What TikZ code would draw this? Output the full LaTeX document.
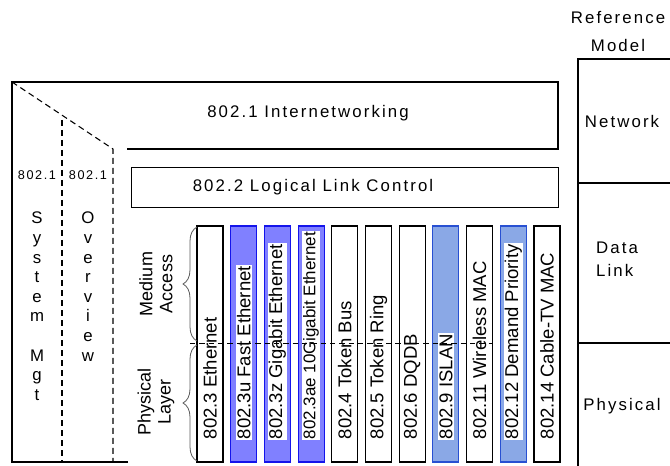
\documentclass[tikz,border=0pt]{standalone}
\usepackage{fontspec}
\setmainfont{Liberation Sans}
\newfontfamily\spacedfont[LetterSpace=12.5]{Liberation Sans}
\usetikzlibrary{decorations.pathreplacing,calc}

\definecolor{violetfill}{RGB}{128,128,255}
\definecolor{violetedge}{RGB}{20,20,235}
\definecolor{skyfill}{RGB}{138,168,230}
\definecolor{skyedge}{RGB}{40,80,210}
\definecolor{bracegray}{RGB}{90,90,90}

\tikzset{
  stdbox/.style={draw=black, line width=0.8pt, fill=white, minimum width=26*0.75pt,
                 minimum height=236*0.75pt, inner sep=0pt},
  fastbox/.style={stdbox, draw=violetedge, fill=violetfill},
  isobox/.style={stdbox, draw=skyedge, fill=skyfill},
  boxlabel/.style={rotate=90, anchor=west, inner sep=0.8pt, font=\fontsize{13.9}{14}\selectfont},
  whitelabel/.style={boxlabel, fill=white},
  hlabel/.style={inner sep=0pt, font=\spacedfont\fontsize{12.6}{14}\selectfont},
  smalllabel/.style={inner sep=0pt, font=\spacedfont\fontsize{9.5}{12}\selectfont},
  letters/.style={inner sep=0pt, align=center, anchor=north, font=\fontsize{12.6}{14.7}\selectfont},
  sidelabel/.style={rotate=90, align=center, inner sep=0pt, font=\fontsize{13.5}{15}\selectfont},
  solidline/.style={line width=0.8pt},
  dashline/.style={line width=0.8pt, dash pattern=on 4.5pt off 3pt},
  bracestyle/.style={draw=bracegray, line width=0.6pt, decorate,
                     decoration={brace, amplitude=10.5pt}},
}

\begin{document}
\begin{tikzpicture}[x=0.75pt, y=-0.75pt]
\useasboundingbox (0,0) rectangle (670,466);

% left management columns and the upper frame
\coordinate (ftl) at (12,82);
\coordinate (fbl) at (12,462);
\coordinate (fbr) at (128,462);
\coordinate (ftr) at (558,82);
\coordinate (fmr) at (558,149);
\coordinate (fml) at (127,149);
\coordinate (ovtop) at (62,120);
\coordinate (ovbot) at (62,462);
\coordinate (mgcorner) at (113,149);
\coordinate (mgbot) at (113,462);
\draw[solidline] (fbr) -- (fbl) -- (ftl) -- (ftr) -- (fmr) -- (fml);
\draw[dashline] (ftl) -- (mgcorner) -- (mgbot);
\draw[dashline] (ovtop) -- (ovbot);

\node[hlabel] (inet) at (308,113) {802.1 Internetworking};
\node[draw, solidline, minimum width=427*0.75pt, minimum height=40*0.75pt, inner sep=0pt,
      anchor=north west] (llc) at (131,167) {};
\node[hlabel] (llctext) at (313,187) {802.2 Logical Link Control};

\node[smalllabel] (mg) at (37,175) {802.1};
\node[smalllabel] (ov) at (88,175) {802.1};
\node[letters] (mgt) at (37,212) {S\\y\\s\\t\\e\\m\\[14.7pt]M\\g\\t};
\node[letters] (ovw) at (88,212) {O\\v\\e\\r\\v\\i\\e\\w};

% reference model column
\coordinate (rtl) at (578,59);
\coordinate (rtr) at (670,59);
\coordinate (rbl) at (578,466);
\draw[solidline] (rtr) -- (rtl) -- (rbl);
\coordinate (r1l) at (578,183);
\coordinate (r1r) at (670,183);
\coordinate (r2l) at (578,343);
\coordinate (r2r) at (670,343);
\draw[solidline] (r1l) -- (r1r);
\draw[solidline] (r2l) -- (r2r);
\node[hlabel] (refa) at (618,18) {Reference};
\node[hlabel] (refb) at (618,45) {Model};
\node[hlabel] (net) at (622,121) {Network};
\node[hlabel, align=left] (dl) at (617,259) {Data\\[3pt]Link};
\node[hlabel] (phy) at (622,406) {Physical};

% MAC / PHY standards
\def\pitch{33.7}
\node[stdbox]  (b1)  at (210+0*\pitch,344) {};
\node[fastbox] (b2)  at (210+1*\pitch,344) {};
\node[fastbox] (b3)  at (210+2*\pitch,344) {};
\node[fastbox] (b4)  at (210+3*\pitch,344) {};
\node[stdbox]  (b5)  at (210+4*\pitch,344) {};
\node[stdbox]  (b6)  at (210+5*\pitch,344) {};
\node[stdbox]  (b7)  at (210+6*\pitch,344) {};
\node[isobox]  (b8)  at (210+7*\pitch,344) {};
\node[stdbox]  (b9)  at (210+8*\pitch,344) {};
\node[isobox]  (b10) at (210+9*\pitch,344) {};
\node[stdbox]  (b11) at (210+10*\pitch,344) {};

\path (b1.south)  ++(0,-22) node[boxlabel]   (t1)  {802.3 Ethernet};
\path (b2.south)  ++(0,-22) node[whitelabel] (t2)  {802.3u Fast Ethernet};
\path (b3.south)  ++(0,-22) node[whitelabel] (t3)  {802.3z Gigabit Ethernet};
\path (b4.south)  ++(0,-22) node[whitelabel, font=\fontsize{12.7}{13}\selectfont] (t4) {802.3ae 10Gigabit Ethernet};
\path (b5.south)  ++(0,-22) node[boxlabel]   (t5)  {802.4 Token Bus};
\path (b6.south)  ++(0,-22) node[boxlabel]   (t6)  {802.5 Token Ring};
\path (b7.south)  ++(0,-22) node[boxlabel]   (t7)  {802.6 DQDB};
\path (b8.south)  ++(0,-22) node[whitelabel] (t8)  {802.9 ISLAN};
\path (b9.south)  ++(0,-22) node[boxlabel]   (t9)  {802.11 Wireless MAC};
\path (b10.south) ++(0,-22) node[whitelabel] (t10) {802.12 Demand Priority};
\path (b11.south) ++(0,-22) node[boxlabel]   (t11) {802.14 Cable-TV MAC};

% sublayer boundary
\coordinate (subl) at (190,343);
\coordinate (subr) at (493,343);
\draw[line width=0.6pt, dash pattern=on 4pt off 3pt] (subl) -- (subr);

% sublayer braces
\coordinate (mab) at (197,341);
\coordinate (mat) at (197,227);
\coordinate (plb) at (197,461);
\coordinate (plt) at (197,345);
\draw[bracestyle] (mab) -- (mat);
\draw[bracestyle] (plb) -- (plt);
\node[sidelabel] (ma) at (156,284) {Medium\\Access};
\node[sidelabel] (pl) at (156,402) {Physical\\Layer};
\end{tikzpicture}
\end{document}
